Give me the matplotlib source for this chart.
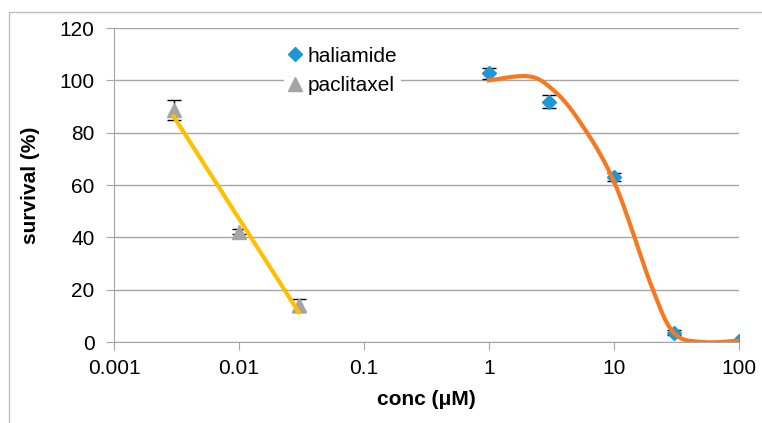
import numpy as np
import matplotlib

matplotlib.use("Agg")
import matplotlib.pyplot as plt  # noqa: E402
from matplotlib.lines import Line2D  # noqa: E402

plt.rcParams["font.family"] = ["Liberation Sans", "DejaVu Sans"]

# measured survival, mean +/- sd
hal_conc = [1, 3, 10, 30, 100]
hal_surv = [102.7, 91.9, 63.0, 3.6, 0.3]
hal_err = [2.0, 2.5, 1.5, 1.0, 0.3]

pac_conc = [0.003, 0.01, 0.03]
pac_surv = [88.6, 42.1, 14.1]
pac_err = [3.8, 1.0, 2.5]

# dose-response curve nodes for haliamide (drawn smoothed)
fit_conc = [1, 2, 3, 5, 10, 20, 30, 50, 100]
fit_surv = [100.0, 101.6, 97.8, 86.1, 61.3, 21.2, 3.6, 0.0, 0.5]

xticks = [0.001, 0.01, 0.1, 1, 10, 100]
xticklabels = ["0.001", "0.01", "0.1", "1", "10", "100"]
yticks = [0, 20, 40, 60, 80, 100, 120]

BLUE = "#1E96D8"
ORANGE = "#F7791F"
GOLD = "#FFC000"
GREY = "#A5A5A5"
GRID = "#A6A6A6"


def smooth(xs, ys, n=40):
    """Excel-style smoothed line: cubic Bezier through the nodes in log-x."""
    p = np.column_stack([np.log10(xs), ys])
    p = np.vstack([p[0], p, p[-1]])
    out = []
    t = np.linspace(0, 1, n)[:, None]
    for i in range(1, len(p) - 2):
        c1 = p[i] + (p[i + 1] - p[i - 1]) / 6
        c2 = p[i + 1] - (p[i + 2] - p[i]) / 6
        seg = ((1 - t) ** 3 * p[i] + 3 * (1 - t) ** 2 * t * c1
               + 3 * (1 - t) * t ** 2 * c2 + t ** 3 * p[i + 1])
        out.append(seg)
    seg = np.vstack(out)
    return 10 ** seg[:, 0], seg[:, 1]


fig = plt.figure(figsize=(7.62, 4.23), dpi=100)
ax = fig.add_axes([114 / 762, 1 - 342 / 423, 625 / 762, 314 / 423])

# outer chart frame (top and left edges)
fig.add_artist(Line2D([9 / 762, 9 / 762, 1], [0, 1 - 12 / 423, 1 - 12 / 423],
                      transform=fig.transFigure, color="#BFBFBF", lw=1))

ax.set_xscale("log")
ax.set_xlim(0.001, 100)
ax.set_ylim(0, 120)
ax.set_xticks(xticks)
ax.set_xticklabels(xticklabels)
ax.xaxis.set_minor_locator(matplotlib.ticker.NullLocator())
ax.set_yticks(yticks)
ax.yaxis.grid(True, color=GRID, lw=1)
ax.set_axisbelow(True)
for side in ("top", "right"):
    ax.spines[side].set_visible(False)
for side in ("left", "bottom"):
    ax.spines[side].set_color(GRID)
ax.tick_params(axis="both", direction="out", length=6, color=GRID,
               labelsize=15)
ax.tick_params(axis="y", pad=8)
ax.tick_params(axis="x", pad=6)

# paclitaxel: log-linear trendline
b, a = np.polyfit(np.log10(pac_conc), pac_surv, 1)
tx = np.array([pac_conc[0], pac_conc[-1]])
ax.plot(tx, a + b * np.log10(tx), color=GOLD, lw=3, zorder=3)
ax.errorbar(pac_conc, pac_surv, yerr=pac_err, fmt="^", color=GREY, ms=10,
            ecolor="black", elinewidth=1, capsize=5, capthick=1, zorder=2)

# haliamide
sx, sy = smooth(fit_conc, fit_surv)
ax.plot(sx, sy, color=ORANGE, lw=3, zorder=3)
ax.errorbar(hal_conc, hal_surv, yerr=hal_err, fmt="D", color=BLUE, ms=7.5,
            ecolor="black", elinewidth=1, capsize=5, capthick=1, zorder=2)

ax.set_xlabel("conc (μM)", fontsize=15, fontweight="bold", labelpad=9)
ax.set_ylabel("survival (%)", fontsize=15, fontweight="bold", labelpad=14)

handles = [
    Line2D([], [], marker="D", color=BLUE, ls="none", ms=7.5),
    Line2D([], [], marker="^", color=GREY, ls="none", ms=10),
]
leg = fig.legend(handles, ["haliamide", "paclitaxel"], loc="upper left",
                 bbox_to_anchor=(274 / 762, 1 - 32 / 423), fontsize=15,
                 frameon=True, facecolor="white", edgecolor="none",
                 handlelength=0.6, handletextpad=0.3, labelspacing=0.5,
                 borderpad=0.2, fancybox=False)
leg.get_frame().set_alpha(1)

fig.savefig("out.png", dpi=100)
